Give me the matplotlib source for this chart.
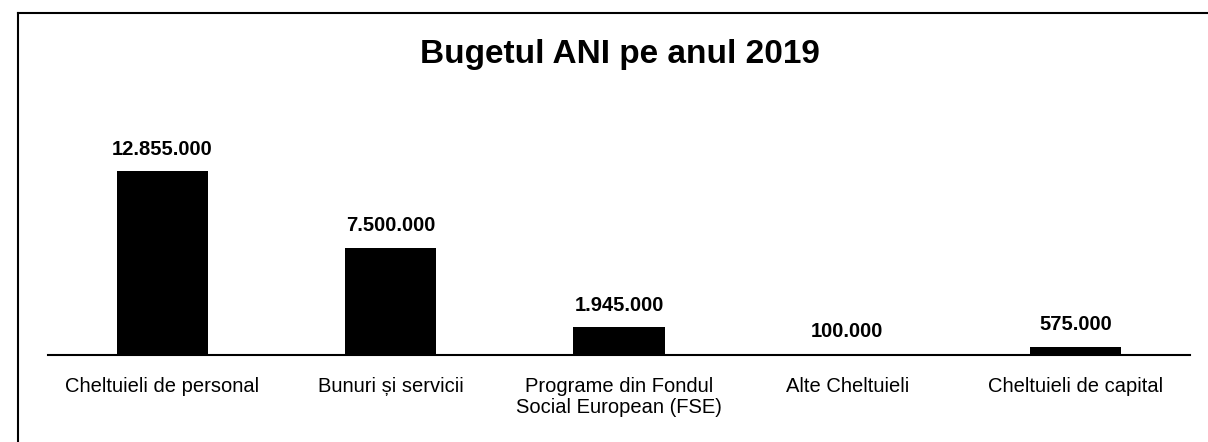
import matplotlib
matplotlib.use("Agg")
import matplotlib.pyplot as plt
from matplotlib.lines import Line2D

plt.rcParams["font.family"] = ["Liberation Sans", "DejaVu Sans"]

categories = [
    "Cheltuieli de personal",
    "Bunuri și servicii",
    "Programe din Fondul\nSocial European (FSE)",
    "Alte Cheltuieli",
    "Cheltuieli de capital",
]
values = [12855000, 7500000, 1945000, 100000, 575000]
value_labels = ["12.855.000", "7.500.000", "1.945.000", "100.000", "575.000"]

fig = plt.figure(figsize=(12.08, 4.42), dpi=100)
ax = fig.add_axes([48 / 1208, 1 - 355 / 442, 1142 / 1208, 255 / 442])

x = list(range(len(categories)))
bars = ax.bar(x, values, width=0.4, color="black")
ax.bar_label(bars, labels=value_labels, padding=9, fontsize=14.5,
             fontweight="bold")

ax.set_xlim(-0.5, len(categories) - 0.5)
ax.set_ylim(0, values[0] * 255 / 184)
ax.set_xticks(x)
ax.set_xticklabels(categories, fontsize=14.5, va="top", linespacing=1.15)
ax.tick_params(axis="x", length=0, pad=16)
ax.set_yticks([])
for side in ["top", "left", "right"]:
    ax.spines[side].set_visible(False)
ax.spines["bottom"].set_linewidth(1.5)

fig.text(0.513, 1 - 55 / 442, "Bugetul ANI pe anul 2019", ha="center",
         va="center", fontsize=24, fontweight="bold")

# frame of the scanned chart box
fig.add_artist(Line2D([18 / 1208, 1], [1 - 13 / 442, 1 - 13 / 442],
                      transform=fig.transFigure, color="black", lw=1.5))
fig.add_artist(Line2D([18 / 1208, 18 / 1208], [0, 1 - 13 / 442],
                      transform=fig.transFigure, color="black", lw=1.5))

fig.savefig("out.png", dpi=100)
